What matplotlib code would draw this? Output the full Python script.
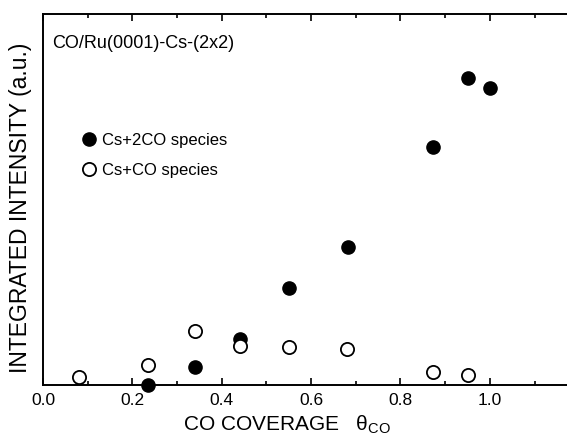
import matplotlib
matplotlib.use('Agg')
import matplotlib.pyplot as plt
from matplotlib.ticker import MultipleLocator
from matplotlib.lines import Line2D

plt.rcParams['font.family'] = ['Liberation Sans', 'DejaVu Sans']
plt.rcParams['mathtext.fontset'] = 'custom'
plt.rcParams['mathtext.rm'] = 'Liberation Sans'
plt.rcParams['mathtext.it'] = 'Liberation Sans:italic'

# integrated intensity vs CO coverage (arbitrary units)
cov_2co = [0.236, 0.341, 0.440, 0.550, 0.682, 0.872, 0.952, 1.000]
int_2co = [0.0, 4.9, 12.3, 26.2, 37.1, 64.2, 82.8, 80.0]

cov_1co = [0.080, 0.236, 0.341, 0.440, 0.550, 0.681, 0.872, 0.952]
int_1co = [2.2, 5.4, 14.6, 10.5, 10.3, 9.8, 3.6, 2.7]

fig = plt.figure(figsize=(5.67, 4.41), dpi=100)
ax = fig.add_axes([0.0758, 0.127, 0.93, 0.841])

ax.plot(cov_2co, int_2co, 'o', color='black', ms=9.5, clip_on=False, zorder=3)
ax.plot(cov_1co, int_1co, 'o', mfc='white', mec='black', mew=1.3, ms=9.5,
        clip_on=False, zorder=3)

ax.set_xlim(0, 1.18)
ax.set_ylim(0, 100)
ax.xaxis.set_major_locator(MultipleLocator(0.2))
ax.xaxis.set_minor_locator(MultipleLocator(0.1))
ax.tick_params(axis='x', which='both', direction='in', top=True, labelsize=12.5,
               width=1.2, pad=6)
ax.tick_params(axis='x', which='major', length=5)
ax.tick_params(axis='x', which='minor', length=3)
ax.set_yticks([])
for s in ax.spines.values():
    s.set_linewidth(1.4)
ax.spines['right'].set_visible(False)

ax.set_xlabel(r'CO COVERAGE   $\mathrm{θ_{CO}}$', fontsize=15)
ax.xaxis.set_label_coords(0.462, -0.078)
ax.set_ylabel('INTEGRATED INTENSITY (a.u.)', fontsize=16.5)
ax.yaxis.set_label_coords(-0.021, 0.478)

ax.text(0.018, 0.92, 'CO/Ru(0001)-Cs-(2x2)', transform=ax.transAxes,
        fontsize=13, va='center', ha='left')

handles = [
    Line2D([], [], ls='none', marker='o', color='black', ms=9.5),
    Line2D([], [], ls='none', marker='o', mfc='white', mec='black', mew=1.3, ms=9.5),
]
ax.legend(handles, ['Cs+2CO species', 'Cs+CO species'], loc='upper left',
          bbox_to_anchor=(0.04, 0.72), frameon=False, fontsize=12,
          handletextpad=0.2, labelspacing=0.9, handlelength=1.2)

fig.savefig('out.png', dpi=100)
